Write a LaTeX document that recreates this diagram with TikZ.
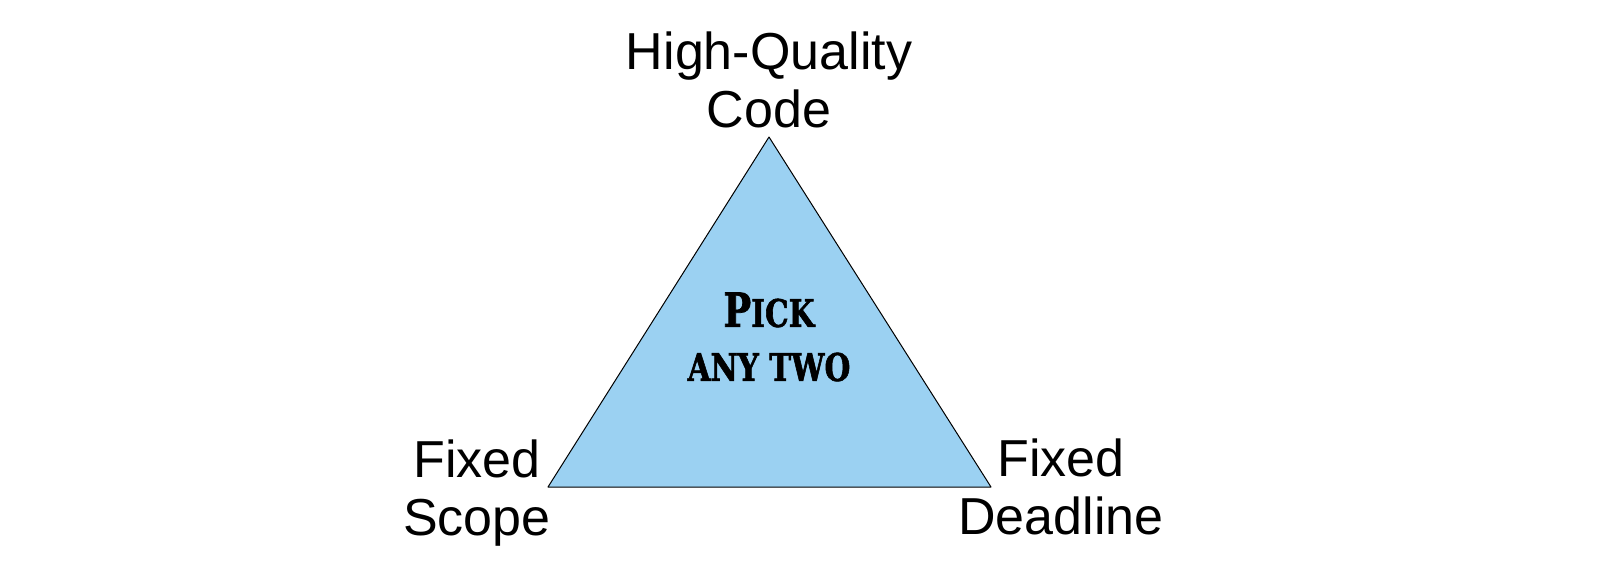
\documentclass[tikz,border=0pt]{standalone}
\usepackage{fontspec}
\usepackage{tikz}
\usetikzlibrary{positioning}
\setmainfont{Liberation Sans}
\newfontfamily\pickfont[UprightFont=* Bold,FakeStretch=0.78,FakeBold=1.5]{DejaVu Serif}
\definecolor{pickblue}{RGB}{155,209,242}

\tikzset{corner/.style={align=center,inner sep=0pt,font=\fontsize{52bp}{58bp}\selectfont}}

\begin{document}
\begin{tikzpicture}
\useasboundingbox (0bp,0bp) rectangle (1604bp,-586bp);

\coordinate (Q) at (769bp,-137bp);
\coordinate (S) at (548bp,-487bp);
\coordinate (D) at (991bp,-487bp);
\draw [fill=pickblue,line width=1bp,line join=round] (Q) -- (S) -- (D) -- cycle;

\node (QL) at (769bp,-128bp)[corner,anchor=south] {High-Quality\\Code};
\node (SL) at (477bp,-546bp)[corner,anchor=south] {Fixed\\Scope};
\node (DL) at (1061bp,-535bp)[corner,anchor=south] {Fixed\\Deadline};

\node (pick) at (769bp,-337bp)[align=center,inner sep=0pt,font=\pickfont\fontsize{38bp}{54bp}\selectfont]
  {{\fontsize{47bp}{54bp}\selectfont P}ICK\\ANY TWO};
\end{tikzpicture}
\end{document}
